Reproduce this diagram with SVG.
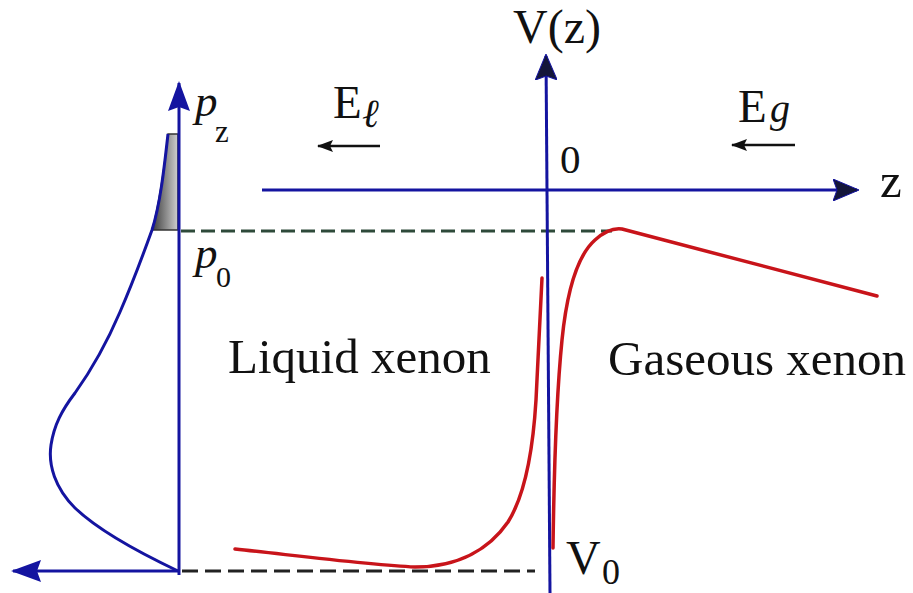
<svg xmlns="http://www.w3.org/2000/svg" width="913" height="593" viewBox="0 0 913 593">
<style>
text{font-family:"Liberation Serif","Times New Roman",serif;fill:#111}
.ax{stroke:#1414a0;stroke-width:3;fill:none}
.red{stroke:#c8141a;stroke-width:3.5;fill:none;stroke-linecap:round;stroke-linejoin:round}
.dg{stroke:#2e4a3a;stroke-width:3;stroke-dasharray:14 6;fill:none}
.dk{stroke:#222;stroke-width:3;stroke-dasharray:16 7;fill:none}
.ef{stroke:#111;stroke-width:2.5;fill:none}
</style>
<defs>
<marker id="aBlue" viewBox="0 0 30 22" refX="28" refY="11" markerWidth="30" markerHeight="22" markerUnits="userSpaceOnUse" orient="auto">
<path d="M0,0 L30,11 L0,22 L4,11 Z" fill="#1414a0"/>
</marker>
<marker id="aDark" viewBox="0 0 26 22" refX="24" refY="11" markerWidth="26" markerHeight="22" markerUnits="userSpaceOnUse" orient="auto">
<path d="M0,0 L26,11 L0,22 L4,11 Z" fill="#14163a" stroke="#1414a0" stroke-width="1"/>
</marker>
<marker id="aSmall" viewBox="0 0 16 12" refX="15" refY="6" markerWidth="16" markerHeight="12" markerUnits="userSpaceOnUse" orient="auto">
<path d="M0,0 L16,6 L0,12 L3,6 Z" fill="#111"/>
</marker>
<linearGradient id="gr" x1="0" y1="0" x2="1" y2="0">
<stop offset="0" stop-color="#3a3a3a"/>
<stop offset="1" stop-color="#cfcfcf"/>
</linearGradient>
</defs>

<g id="shade">
<path d="M152,230 C159,205 164,170 168,134 L178,134 L178,230 Z" fill="url(#gr)" stroke="#333" stroke-width="1.5"/>
</g>

<g id="connectors">
<line class="dg" x1="181" y1="231" x2="612" y2="231"/>
<line class="dk" x1="182" y1="571" x2="535" y2="571"/>
<line class="ax" x1="179" y1="575" x2="179" y2="83" marker-end="url(#aBlue)"/>
<line class="ax" x1="179" y1="571" x2="13" y2="571" marker-end="url(#aBlue)"/>
<line class="ax" x1="550" y1="593" x2="546" y2="56" marker-end="url(#aDark)"/>
<line class="ax" x1="262" y1="190" x2="857" y2="190" marker-end="url(#aDark)"/>
<line class="ef" x1="380" y1="146" x2="318" y2="146" marker-end="url(#aSmall)"/>
<line class="ef" x1="795" y1="145" x2="732" y2="145" marker-end="url(#aSmall)"/>
</g>

<g id="momentum-curve">
<path class="ax" d="M178,571 C140,553 100,532 75,508 C55,488 48,465 51,445 C54,425 62,410 75,393 C95,365 108,340 120,312 C133,282 143,255 152,230 C160,205 164,170 168,134"/>
</g>

<g id="potential-liquid">
<path class="red" d="M235,549 C300,556 370,565 415,567 C460,567 490,548 508,522 C525,495 533,450 536,400 L542,278"/>
</g>
<g id="potential-gas">
<path class="red" d="M553,548 C554,470 557,390 562,340 C567,290 578,255 595,240 C605,231 615,228 622,229 L877,296"/>
</g>

<g id="labels">
<text x="195" y="116" font-size="45" font-style="italic">p</text>
<text x="215" y="142" font-size="31">z</text>
<text x="195" y="268" font-size="45" font-style="italic">p</text>
<text x="216" y="287" font-size="30">0</text>
<text x="513" y="43" font-size="48">V(z)</text>
<text x="560" y="173" font-size="41">0</text>
<text x="880" y="197" font-size="49">z</text>
<text x="333" y="118" font-size="47">E</text>
<text x="362" y="127" font-size="40" font-style="italic">ℓ</text>
<text x="738" y="122" font-size="47">E</text>
<text x="770" y="122" font-size="40" font-style="italic">g</text>
<text x="228" y="373" font-size="49">Liquid xenon</text>
<text x="608" y="375" font-size="49">Gaseous xenon</text>
<text x="566" y="574" font-size="48">V</text>
<text x="602" y="584" font-size="36">0</text>
</g>
</svg>
